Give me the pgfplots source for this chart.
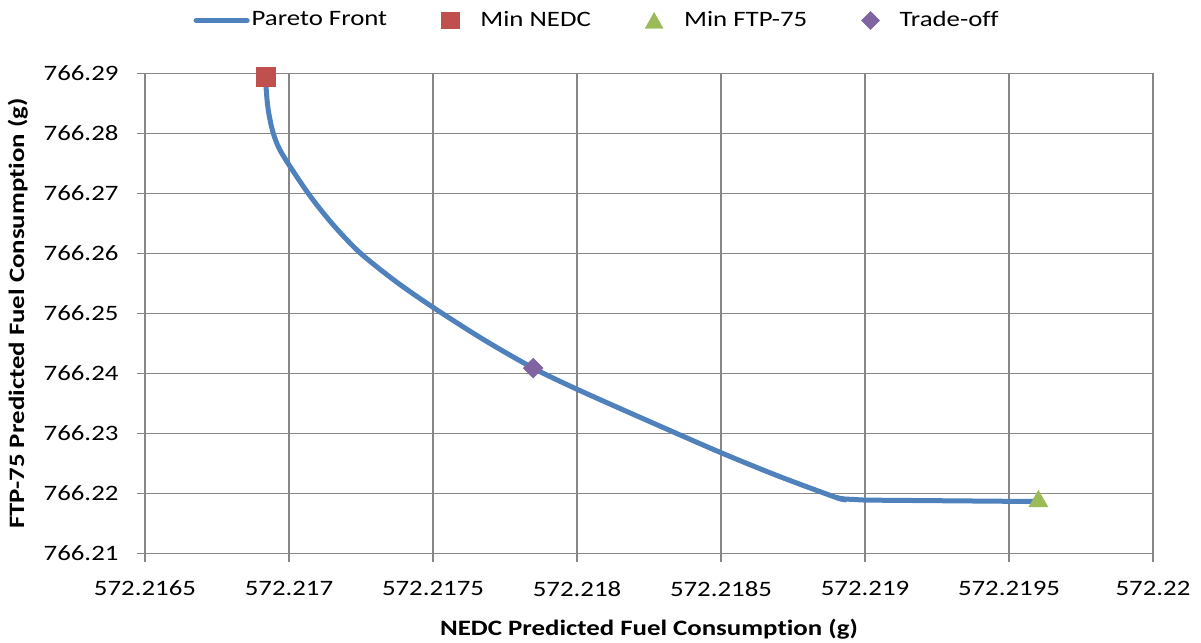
\documentclass[border=0pt]{standalone}
\usepackage{pgfplots}
\pgfplotsset{compat=1.18}
\usepackage{fontspec}
\setmainfont{Carlito}[Ligatures={NoCommon}, FakeStretch=1.22]
\definecolor{cblue}{HTML}{4F81BD}
\definecolor{cred}{HTML}{C0504D}
\definecolor{cgreen}{HTML}{9BBB59}
\definecolor{cpurple}{HTML}{8064A2}
\definecolor{cgrid}{HTML}{878787}
% x in units of 1e-4 g above 572.2165 g; y in units of 1e-2 g above 766.21 g
\begin{document}
\fontsize{22bp}{26bp}\selectfont
\begin{tikzpicture}
\begin{axis}[
  scale only axis,
  width=1008bp, height=480bp,
  xmin=0, xmax=35,
  ymin=0, ymax=8,
  xtick={0,5,10,15,20,25,30,35},
  xticklabels={572.2165,572.217,572.2175,572.218,572.2185,572.219,572.2195,572.22},
  ytick={0,1,2,3,4,5,6,7,8},
  yticklabels={766.21,766.22,766.23,766.24,766.25,766.26,766.27,766.28,766.29},
  grid=major,
  grid style={cgrid, line width=1.8bp},
  axis line style={cgrid, line width=1.8bp},
  axis x line*=bottom, axis y line*=left,
  major tick style={cgrid, line width=1.8bp},
  tick align=outside, major tick length=8bp,
  tick label style={font=\fontsize{22bp}{26bp}\selectfont},
  xticklabel style={yshift=-12bp},
  yticklabel style={xshift=-11bp},
  label style={font=\fontsize{22bp}{26bp}\selectfont\bfseries},
  xlabel={NEDC Predicted Fuel Consumption (g)},
  ylabel={FTP-75 Predicted Fuel Consumption (g)},
  xlabel style={yshift=-8bp},
  ylabel style={yshift=1bp},
  legend columns=4,
  legend style={draw=none, at={(0.4485,1.0)}, anchor=center, yshift=53bp,
    font=\fontsize{22bp}{26bp}\selectfont,
    /tikz/every odd column/.append style={column sep=0bp},
    /tikz/every even column/.append style={column sep=52bp},
    nodes={inner xsep=2bp}},
  clip=false,
]
\addplot[cblue, line width=5bp, smooth, tension=0.5, line cap=round,
  legend image code/.code={\draw[cblue, line width=5bp, line cap=round] (2.5bp,0bp) -- (53.5bp,0bp);}]
  coordinates {
  (4.20,7.95)
  (4.21,7.73)
  (4.28,7.39)
  (4.45,7.01)
  (4.75,6.67)
  (5.67,6.00)
  (6.53,5.48)
  (7.47,5.01)
  (8.72,4.53)
  (10.01,4.10)
  (11.74,3.57)
  (13.48,3.09)
  (14.99,2.74)
  (17.47,2.21)
  (20.00,1.68)
  (22.05,1.28)
  (24.02,0.93)
  (24.24,0.91)
  };
\addlegendentry{Pareto Front}
\addplot[cblue, line width=5bp, line cap=round, forget plot]
  coordinates {
  (24.02,0.93)
  (24.24,0.91)
  (25.0,0.89)
  (27.5,0.88)
  (30.0,0.87)
  (31.0,0.87)
  };
\addplot[only marks, mark=square*, mark size=9.5bp, cred, mark options={fill=cred, draw=cred},
  legend image code/.code={\fill[cred] (0bp,-8bp) rectangle (18bp,8bp); \path[draw=none,fill=none] (0bp,0bp) -- (37bp,0bp);}]
  coordinates {(4.20,7.95)};
\addlegendentry{Min NEDC}
\addplot[only marks, mark=triangle*, mark size=11bp, cgreen, mark options={fill=cgreen, draw=cgreen},
  legend image code/.code={\fill[cgreen] (0bp,-8bp) -- (18bp,-8bp) -- (9bp,8bp) -- cycle; \path[draw=none,fill=none] (0bp,0bp) -- (37bp,0bp);}]
  coordinates {(31.02,0.87)};
\addlegendentry{Min FTP-75}
\addplot[only marks, mark=square*, mark size=7bp, cpurple, mark options={fill=cpurple, draw=cpurple, rotate=45},
  legend image code/.code={\fill[cpurple] (9bp,-9bp) -- (18bp,0bp) -- (9bp,9bp) -- (0bp,0bp) -- cycle; \path[draw=none,fill=none] (0bp,0bp) -- (36bp,0bp);}]
  coordinates {(13.48,3.09)};
\addlegendentry{Trade-off}
\end{axis}
\pgfresetboundingbox
\path[use as bounding box] ([shift={(-145bp,-89bp)}]current axis.south west) rectangle ([shift={(48bp,73.5bp)}]current axis.north east);
\end{tikzpicture}
\end{document}
